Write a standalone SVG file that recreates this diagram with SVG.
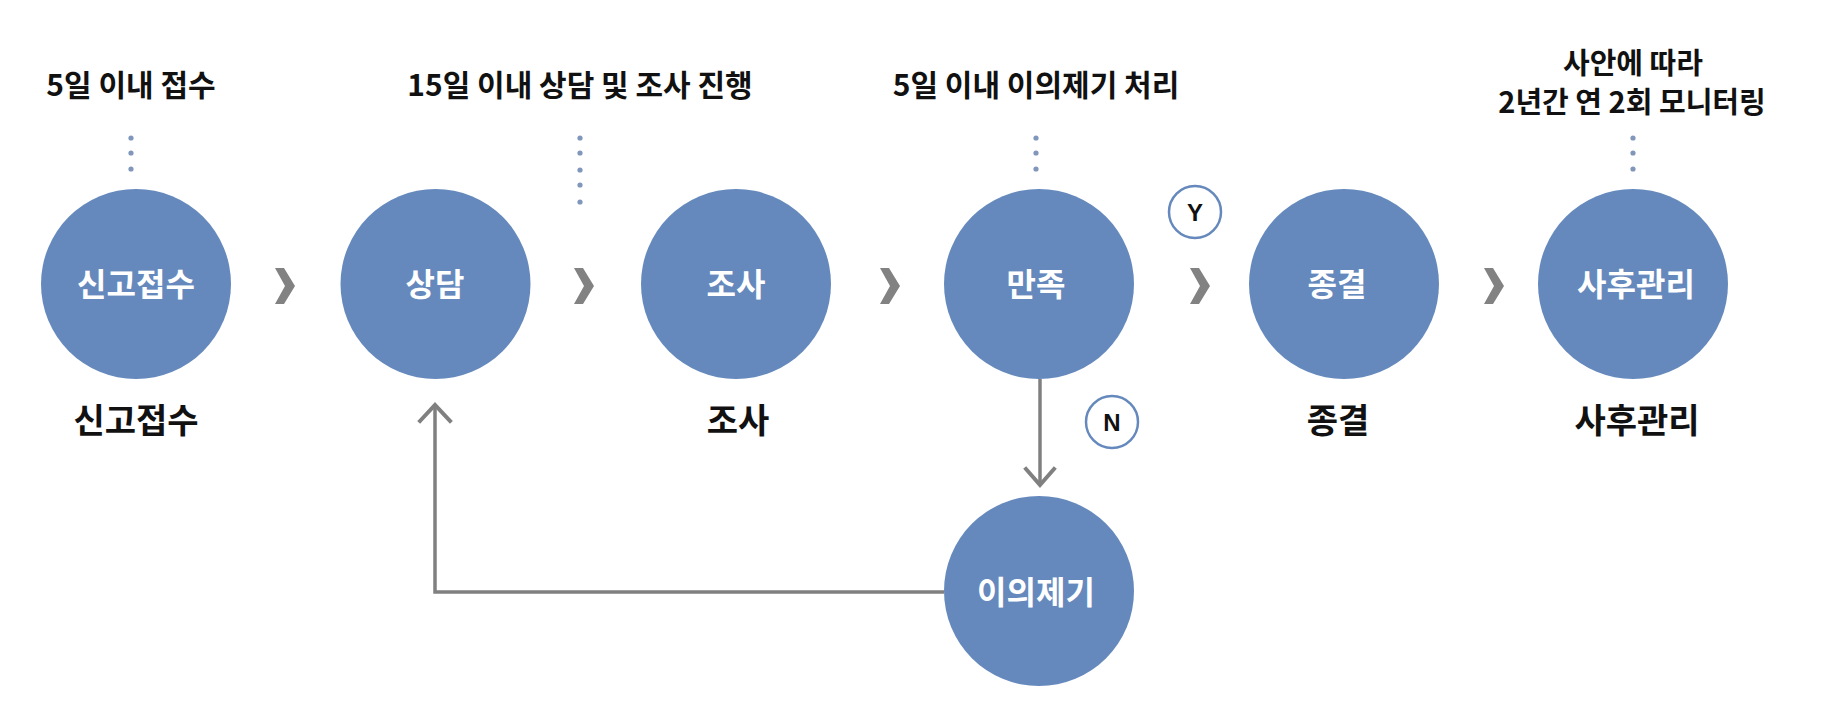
<svg xmlns="http://www.w3.org/2000/svg" width="1828" height="723" viewBox="0 0 1828 723">
<defs>
<style>
.node{fill:#6589bd}
.in{font-family:"Noto Sans CJK KR","Noto Sans",sans-serif;font-weight:bold;font-size:32px;fill:#ffffff;text-anchor:middle}
.top{font-family:"Noto Sans CJK KR","Noto Sans",sans-serif;font-weight:bold;font-size:30px;fill:#111111;text-anchor:middle}
.top2{font-family:"Noto Sans CJK KR","Noto Sans",sans-serif;font-weight:bold;font-size:29px;fill:#111111;text-anchor:middle}
.bot{font-family:"Noto Sans CJK KR","Noto Sans",sans-serif;font-weight:bold;font-size:34px;fill:#111111;text-anchor:middle}
.dot{fill:#8097bb}
.chev{fill:#828282}
.line{fill:none;stroke:#808080;stroke-width:3.5}
.head{fill:none;stroke:#808080;stroke-width:4;stroke-linecap:square}
.yn{fill:#ffffff;stroke:#6589bd;stroke-width:2.5}
.ynt{font-family:"Liberation Sans",Arial,sans-serif;font-weight:bold;font-size:24px;fill:#111111;text-anchor:middle}
</style>
<path id="chev" d="M0,0 L9,0 L20,18 L9,36 L0,36 L10,18 Z"/>
</defs>
<rect width="1828" height="723" fill="#ffffff"/>

<g id="connectors">
<use href="#chev" class="chev" x="275" y="268"/>
<use href="#chev" class="chev" x="574" y="268"/>
<use href="#chev" class="chev" x="880" y="268"/>
<use href="#chev" class="chev" x="1190" y="268"/>
<use href="#chev" class="chev" x="1484" y="268"/>
<line class="line" x1="1040" y1="379" x2="1040" y2="484"/>
<polyline class="head" points="1026,469 1040,485 1054,469"/>
<polyline class="line" points="944,592 435,592 435,406"/>
<polyline class="head" points="420,421 435,405 450,421"/>
<circle class="yn" cx="1195" cy="212" r="26"/>
<text class="ynt" x="1195" y="221">Y</text>
<circle class="yn" cx="1112" cy="422" r="26"/>
<text class="ynt" x="1112" y="431">N</text>
</g>

<g id="node-singo">
<text class="top" x="131" y="96">5일 이내 접수</text>
<circle class="dot" cx="131" cy="138" r="2.6"/>
<circle class="dot" cx="131" cy="153" r="2.6"/>
<circle class="dot" cx="131" cy="169" r="2.6"/>
<circle class="node" cx="136" cy="284" r="95"/>
<text class="in" x="136" y="296">신고접수</text>
<text class="bot" x="136" y="433">신고접수</text>
</g>

<g id="node-sangdam">
<text class="top" x="580" y="96">15일 이내 상담 및 조사 진행</text>
<circle class="dot" cx="580" cy="138" r="2.6"/>
<circle class="dot" cx="580" cy="153" r="2.6"/>
<circle class="dot" cx="580" cy="170" r="2.6"/>
<circle class="dot" cx="580" cy="185" r="2.6"/>
<circle class="dot" cx="580" cy="202" r="2.6"/>
<circle class="node" cx="435.5" cy="284" r="95"/>
<text class="in" x="435" y="296">상담</text>
</g>

<g id="node-josa">
<circle class="node" cx="736" cy="284" r="95"/>
<text class="in" x="736" y="296">조사</text>
<text class="bot" x="738" y="433">조사</text>
</g>

<g id="node-manjok">
<text class="top" x="1036" y="96">5일 이내 이의제기 처리</text>
<circle class="dot" cx="1036" cy="138" r="2.6"/>
<circle class="dot" cx="1036" cy="153" r="2.6"/>
<circle class="dot" cx="1036" cy="169" r="2.6"/>
<circle class="node" cx="1039" cy="284" r="95"/>
<text class="in" x="1036" y="296">만족</text>
</g>

<g id="node-jonggyeol">
<circle class="node" cx="1344" cy="284" r="95"/>
<text class="in" x="1337" y="296">종결</text>
<text class="bot" x="1338" y="433">종결</text>
</g>

<g id="node-sahu">
<text class="top2" x="1633" y="74">사안에 따라</text>
<text class="top2" x="1632" y="113">2년간 연 2회 모니터링</text>
<circle class="dot" cx="1633" cy="138" r="2.6"/>
<circle class="dot" cx="1633" cy="153" r="2.6"/>
<circle class="dot" cx="1633" cy="169" r="2.6"/>
<circle class="node" cx="1633" cy="284" r="95"/>
<text class="in" x="1636" y="296">사후관리</text>
<text class="bot" x="1637" y="433">사후관리</text>
</g>

<g id="node-iui">
<circle class="node" cx="1039" cy="591" r="95"/>
<text class="in" x="1036" y="604">이의제기</text>
</g>
</svg>
